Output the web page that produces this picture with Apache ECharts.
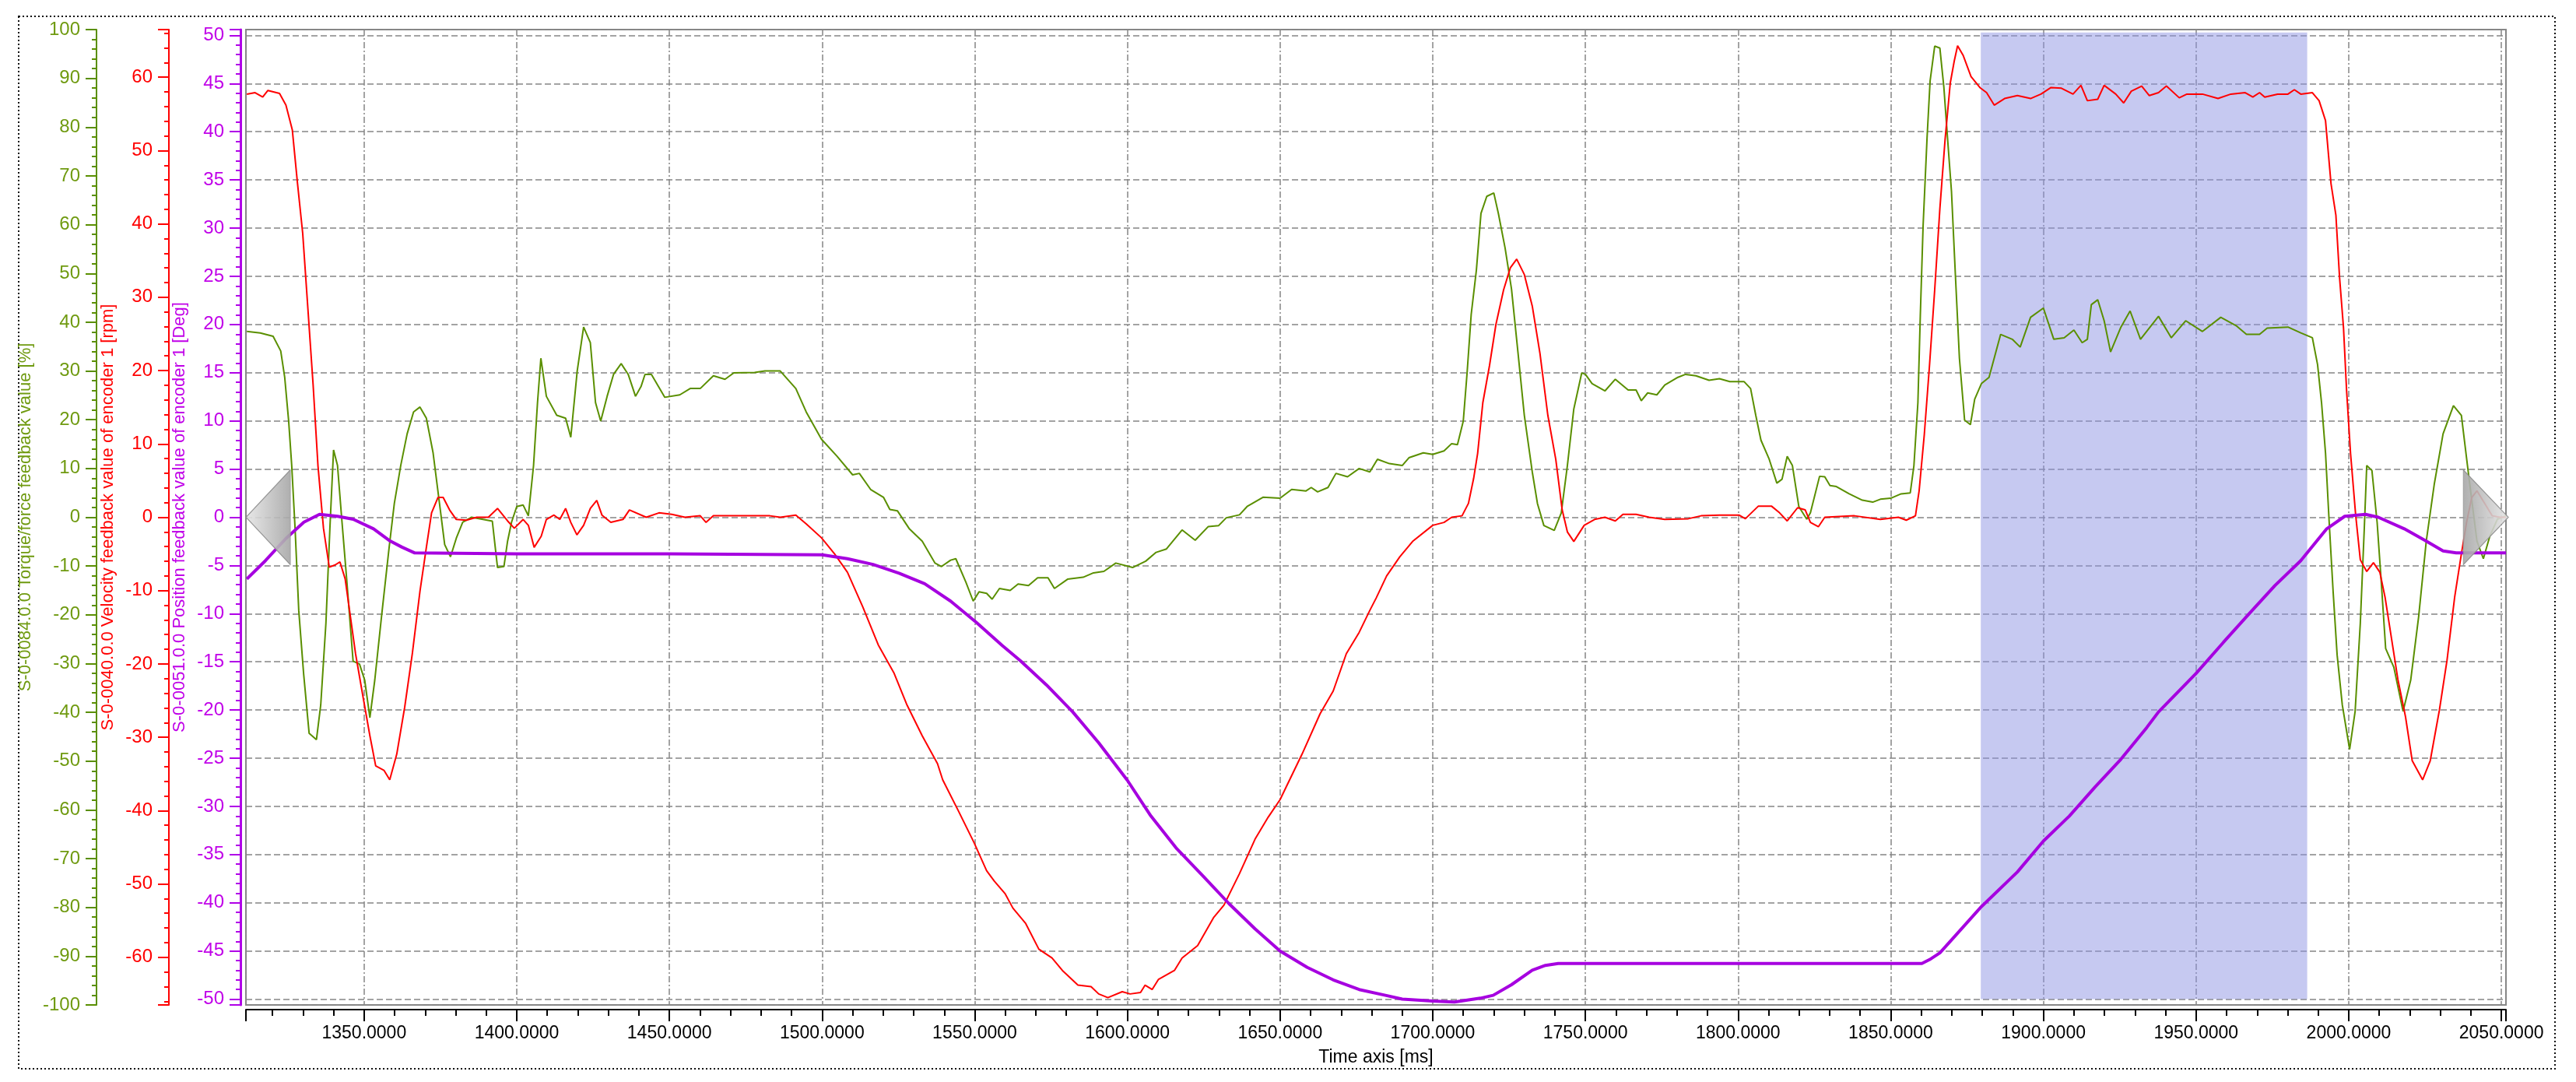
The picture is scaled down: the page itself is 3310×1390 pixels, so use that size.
<!DOCTYPE html>
<html><head><meta charset="utf-8">
<script src="https://cdn.jsdelivr.net/npm/echarts@6/dist/echarts.min.js"></script>
<style>html,body{margin:0;padding:0;background:#fff}#c{width:3310px;height:1390px}</style>
</head><body><div id="c"></div>
<script>
// ---- data: [time ms, value] ----
const torque = [
[1311.6,38.1],[1316.0,37.8],[1320.2,37.1],[1322.7,34.1],[1324.0,28.7],[1325.3,19.7],[1326.3,10.6],[1327.4,-2.3],[1328.6,-19.1],[1330.2,-32.1],[1332.0,-44.3],[1334.4,-45.6],[1335.8,-38.5],[1337.5,-21.7],[1338.8,-2.3],[1340.0,13.8],[1341.3,10.6],[1342.6,0.3],[1344.3,-12.7],[1346.4,-29.5],[1348.5,-30.1],[1350.2,-33.4],[1351.9,-41.1],[1353.5,-33.4],[1355.7,-20.4],[1358.2,-6.2],[1359.9,2.8],[1362.0,10.6],[1364.1,17.1],[1366.2,21.6],[1368.3,22.6],[1370.4,20.3],[1372.6,13.2],[1374.7,2.8],[1376.4,-5.6],[1378.3,-8.1],[1380.2,-4.3],[1382.3,-1.0],[1385.2,0],[1388.6,-0.4],[1392.0,-0.8],[1393.7,-10.3],[1395.8,-10.1],[1397.0,-4.9],[1398.3,-1.0],[1400.0,2.2],[1402.1,2.5],[1403.8,0.3],[1405.5,10.6],[1406.8,23.5],[1407.9,32.6],[1409.7,24.8],[1413.1,20.9],[1416.0,20.3],[1417.7,16.4],[1419.8,30.0],[1421.9,39.0],[1424.1,35.8],[1425.8,23.5],[1427.5,19.7],[1429.6,24.8],[1431.7,29.3],[1434.2,31.5],
[1436.5,29.3],[1438.9,24.8],[1440.7,26.8],[1442.0,29.3],[1444.1,29.3],[1448.5,24.6],[1453.4,25.1],[1456.8,26.4],[1460.1,26.4],[1464.4,29.0],[1468.2,28.3],[1471.1,29.6],[1477.9,29.7],[1481.3,30.0],[1486.3,30.0],[1491.4,26.4],[1494.8,21.6],[1499.8,16.0],[1504.9,12.5],[1510.0,8.7],[1512.2,9.0],[1515.9,5.7],[1520.1,4.1],[1522.2,1.6],[1524.7,1.3],[1528.5,-2.3],[1532.8,-4.9],[1537.0,-9.4],[1539.1,-10.1],[1542.1,-8.8],[1543.8,-8.5],[1547.1,-13.3],[1549.5,-17.2],[1551.4,-15.3],[1553.9,-15.6],[1555.7,-16.8],[1558.1,-14.6],
[1561.6,-15.0],[1564.2,-13.7],[1567.6,-14.0],[1570.6,-12.4],[1574.0,-12.4],[1576.1,-14.6],[1580.4,-12.7],[1585.5,-12.3],[1588.9,-11.4],[1592.3,-11.1],[1596.2,-9.4],[1601.7,-10.3],[1606.0,-9.0],[1609.4,-7.2],[1612.8,-6.5],[1617.9,-2.6],[1622.2,-4.7],[1626.5,-1.9],[1629.9,-1.7],[1632.4,-0.1],[1636.7,0.5],[1639.2,2.2],[1644.4,4.1],[1650.0,3.9],[1653.8,5.7],[1658.5,5.4],[1660.2,6.1],[1662.3,5.2],[1665.7,6.1],[1668.3,9.0],[1672.1,8.3],[1675.9,10.0],[1679.4,9.3],[1681.9,11.9],
[1685.8,11.0],[1690.0,10.6],[1692.2,12.2],[1696.9,13.2],[1700.0,12.9],[1703.7,13.6],[1706.2,15.1],[1708.1,14.9],[1710.0,19.7],[1711.3,30.0],[1712.6,41.6],[1714.3,50.7],[1715.8,62.3],[1717.7,65.8],[1720.0,66.5],[1721.5,62.3],[1723.7,55.2],[1725.8,46.8],[1727.9,33.9],[1730.0,20.9],[1732.6,9.3],[1734.3,2.8],[1736.4,-1.7],[1739.8,-2.7],[1742.1,0.9],[1744.1,10.6],[1746.2,22.2],[1748.8,29.6],[1750.0,29.3],[1752.2,27.4],[1756.4,25.9],[1759.8,28.3],[1764.0,26.1],[1766.6,26.1],[1768.3,23.9],[1770.4,25.5],[1773.4,25.1],[1776.0,27.1],[1780.3,28.7],[1782.8,29.3],[1786.2,29.0],[1790.5,28.1],[1793.9,28.4],[1797.3,27.8],[1802.0,27.8],[1804.1,26.4],[1805.8,20.9],[1807.5,15.8],
[1810.2,11.9],[1812.7,7.0],[1814.4,7.8],[1816.1,12.5],[1817.8,10.6],[1819.9,2.2],[1822.5,-0.4],[1823.7,0.9],[1826.7,8.4],[1828.4,8.3],[1830.1,6.5],[1832.2,6.3],[1836.4,4.8],[1840.7,3.5],[1844.1,3.1],[1846.6,3.7],[1850.0,3.9],[1853.4,4.8],[1856.4,5.0],[1857.6,10.6],[1858.9,23.5],[1859.7,41.6],[1860.6,59.7],[1861.9,77.8],[1862.9,89.5],[1864.4,96.6],[1866.1,96.2],[1867.4,88.2],[1868.6,77.8],[1869.9,66.8],[1871.2,49.4],[1872.5,32.6],[1874.2,19.9],[1876.1,19.0],[1877.5,24.2],[1879.7,27.4],[1882.2,28.7],[1886.0,37.5],[1889.8,36.5],[1892.4,34.9],[1895.8,41.0],[1900.0,42.9],[1903.4,36.5],[1906.8,36.8],[1910.0,38.4],[1912.7,35.8],[1914.4,36.5],[1915.7,43.6],[1917.8,44.6],[1919.9,40.3],[1922.0,33.9],[1925.4,39.0],[1928.4,42.3],[1931.8,36.5],
[1937.7,41.2],[1941.9,36.8],[1946.6,40.3],[1952.1,38.1],[1958.1,41.0],[1963.1,39.3],[1966.5,37.5],[1970.8,37.5],[1973.3,38.8],[1980.1,39.0],[1984.3,37.8],[1988.1,36.8],[1989.8,31.3],[1991.1,23.5],[1992.4,13.2],[1993.6,-1.0],[1994.9,-15.3],[1996.2,-28.2],[1997.9,-38.5],[2000.3,-47.6],[2002.1,-39.8],[2003.8,-21.7],[2005.1,-2.3],[2005.9,10.6],[2007.6,9.6],[2009.3,-1.0],[2010.6,-12.7],[2012.1,-26.9],[2014.8,-30.8],[2017.8,-39.8],[2020.3,-33.4],[2022.9,-20.4],[2025.4,-4.9],[2028.0,6.7],[2030.9,17.1],[2034.3,22.9],[2036.9,20.9],[2039.4,8.0],[2042.0,-4.9],[2044.1,-8.5],[2046.2,-3.9],[2048.7,-0.4],[2051.5,0.3]
];
const velocity = [
[1311.6,57.7],[1314.3,57.9],[1316.8,57.3],[1318.5,58.2],[1322.3,57.8],[1324.4,56.2],[1326.5,52.8],[1328.2,45.5],[1329.9,38.7],[1331.6,28.4],[1333.3,18.1],[1334.9,7.0],[1336.7,-1.5],[1338.6,-6.8],[1340.5,-6.5],[1342.1,-6.1],[1343.8,-8.4],[1345.5,-13.5],[1347.2,-18.6],[1349.7,-24.6],[1351.9,-29.8],[1353.8,-33.9],[1356.5,-34.5],[1358.4,-35.8],[1360.7,-32.3],[1363.3,-25.9],[1365.8,-18.6],[1368.3,-10.1],[1370.4,-4.1],[1372.1,0.6],[1374.2,2.7],[1375.9,2.7],[1378.0,1.0],[1380.2,-0.3],[1383.5,-0.4],[1386.9,0],[1390.7,0],[1393.7,1.2],[1397.0,-0.5],[1399.2,-1.5],[1402.1,-0.3],[1403.8,-1.1],[1405.7,-4.1],[1408.0,-2.6],[1409.7,-0.3],[1412.2,0.3],[1414.1,-0.3],[1416.0,1.2],[1417.7,-0.7],[1419.7,-2.4],[1421.9,-1.1],[1424.1,1.2],[1426.2,2.3],[1427.9,0.3],[1430.8,-0.7],[1434.8,-0.3],[1436.9,1.0],[1442.4,0],[1446.6,0.6],[1450.8,0.4],[1455.1,0],[1460.1,0.2],[1462.0,-0.7],[1464.4,0.2],[1474.5,0.2],[1482.9,0.2],[1486.3,0],[1491.4,0.3],[1494.8,-0.9],[1499.8,-2.8],[1504.1,-5.0],[1508.3,-7.5],[1513.3,-12.2],[1518.4,-17.4],[1523.5,-21.2],[1527.7,-25.5],[1532.8,-29.8],[1537.8,-33.6],[1539.5,-35.8],[1544.6,-40.0],[1549.7,-44.3],[1553.9,-48.2],[1556.4,-49.6],[1559.9,-51.3],[1562.5,-53.3],[1566.7,-55.4],[1571.0,-58.9],[1575.3,-60.1],[1578.7,-61.8],[1583.8,-63.8],[1588.1,-64.0],[1590.6,-65.0],[1593.6,-65.5],[1598.3,-64.7],[1600.9,-65.0],[1604.3,-64.8],[1605.8,-63.8],[1608.1,-64.4],[1610.2,-63.0],[1615.4,-61.8],[1617.9,-60.1],[1623.0,-58.4],[1628.2,-54.6],[1631.6,-52.9],[1636.7,-48.6],[1641.8,-43.9],[1646.1,-40.9],[1650.0,-38.5],[1657.2,-32.3],[1663.1,-26.8],[1667.4,-23.7],[1671.7,-18.6],[1675.9,-15.7],[1679.4,-12.7],[1681.5,-11.0],[1684.9,-8.0],[1689.2,-5.4],[1693.4,-3.3],[1700.0,-1.1],[1703.7,-0.7],[1706.2,0],[1709.6,0.2],[1711.7,1.9],[1713.4,5.3],[1714.7,8.7],[1716.4,15.6],[1718.6,20.7],[1720.7,26.3],[1723.2,31.0],[1725.4,34.0],[1727.5,35.2],[1730.0,33.1],[1732.6,28.8],[1735.1,22.4],[1737.7,13.9],[1740.3,7.9],[1742.4,1.0],[1744.1,-2.0],[1746.2,-3.3],[1749.6,-1.1],[1753.0,-0.3],[1756.4,0],[1759.8,-0.5],[1762.3,0.4],[1766.6,0.4],[1770.9,0],[1776.0,-0.3],[1783.7,-0.2],[1787.9,0.2],[1793.9,0.3],[1800.3,0.3],[1802.4,-0.2],[1806.6,1.5],[1811.0,1.5],[1813.6,0.6],[1816.1,-0.5],[1819.5,1.3],[1822.0,1.0],[1823.7,-0.7],[1826.3,-1.3],[1828.4,0],[1838.1,0.2],[1846.6,-0.3],[1852.5,0],[1855.1,-0.4],[1858.1,0.2],[1859.3,3.6],[1861.0,11.3],[1862.7,20.7],[1864.4,31.0],[1866.1,42.1],[1867.8,51.5],[1869.5,59.2],[1870.8,62.2],[1871.9,64.3],[1873.7,63.0],[1876.3,60.1],[1879.2,58.6],[1881.4,57.9],[1883.9,56.2],[1887.3,57.1],[1891.5,57.5],[1895.8,57.1],[1899.2,57.7],[1902.5,58.6],[1905.9,58.5],[1909.7,57.7],[1912.3,58.9],[1914.4,56.8],[1917.8,57.0],[1919.9,58.9],[1923.7,57.7],[1926.3,56.5],[1928.8,58.1],[1932.2,58.8],[1934.7,57.5],[1937.7,57.9],[1940.3,58.8],[1944.5,57.2],[1947.0,57.7],[1952.1,57.7],[1957.2,57.1],[1961.4,57.7],[1966.1,57.9],[1968.6,57.3],[1970.8,57.9],[1972.5,57.3],[1976.7,57.7],[1980.1,57.7],[1982.2,58.3],[1984.3,57.7],[1988.1,57.9],[1990.3,56.8],[1992.4,54.1],[1994.2,45.5],[1995.8,41.2],[1997.0,32.7],[1998.3,25.8],[1999.3,17.3],[2000.6,8.7],[2002.3,0.2],[2003.8,-5.8],[2005.9,-7.4],[2008.1,-6.2],[2010.2,-7.5],[2011.9,-10.9],[2014.0,-16.5],[2016.1,-22.1],[2018.6,-27.2],[2020.8,-33.2],[2024.2,-35.8],[2026.7,-33.2],[2029.7,-26.3],[2032.2,-19.5],[2034.7,-10.9],[2036.9,-5.0],[2038.6,-0.7],[2040.3,2.7],[2042.0,3.6],[2044.5,1.9],[2047.0,0.2],[2049.6,0],[2051.5,0]
];
const position = [
[1311.6,-6.4],[1317.7,-4.5],[1324.4,-2.2],[1330.3,-0.5],[1335.4,0.3],[1341.3,0.1],[1346.4,-0.2],[1353.1,-1.2],[1358.2,-2.4],[1362.4,-3.1],[1366.6,-3.7],[1400,-3.8],[1450,-3.8],[1500,-3.9],[1508.3,-4.3],[1516.7,-4.9],[1525.2,-5.8],[1533.6,-6.9],[1542.1,-8.7],[1550.5,-10.9],[1559.0,-13.3],[1565.0,-14.9],[1573.5,-17.4],[1582.1,-20.2],[1590.6,-23.4],[1600.0,-27.3],[1607.7,-31.0],[1616.2,-34.4],[1624.7,-37.2],[1633.3,-40.1],[1641.8,-42.7],[1650.0,-45.0],[1658.9,-46.7],[1667.4,-48.0],[1675.9,-49.0],[1684.5,-49.6],[1690.0,-50.0],[1700,-50.2],[1707.1,-50.3],[1715.6,-49.9],[1719.8,-49.6],[1725.8,-48.5],[1732.6,-47.0],[1736.9,-46.5],[1741.1,-46.3],[1800,-46.3],[1860.2,-46.3],[1862.7,-45.9],[1866.1,-45.2],[1871.2,-43.4],[1879.7,-40.4],[1891.5,-36.8],[1900.0,-33.6],[1908.5,-31.0],[1916.9,-28.0],[1925.4,-25.1],[1933.9,-21.8],[1937.7,-20.2],[1950.0,-16.2],[1958.9,-13.0],[1967.4,-10.0],[1975.8,-7.1],[1984.3,-4.5],[1992.8,-1.2],[1998.7,0.1],[2005.5,0.3],[2009.7,0],[2018.2,-1.2],[2025.0,-2.4],[2030.9,-3.5],[2035.2,-3.7],[2051.5,-3.7]
];
const highlightStart = 1879.5, highlightEnd = 1986.4;
const cursorLeft = 1318.6, cursorRight = 2044.9;
const xMin = 1311.3, xMax = 2051.5;

const GREEN = '#5a8f00', GREEN_TXT = '#6f9a10';
const RED = '#ff0000';
const MAG = '#a600e0', MAG_AXIS = '#b000e8', MAG_TXT = '#c000e8';
const FONT = 'Liberation Sans, Arial, sans-serif';

function yAxisBase(color, txtColor, offset, name, nameGap, lineW) {
  return {
    type: 'value', position: 'left', offset: offset,
    axisLine: {show: true, onZero: false, lineStyle: {color: color, width: lineW}},
    axisTick: {show: true, length: 14, lineStyle: {color: color, width: 2}},
    minorTick: {show: true, splitNumber: 5, length: 6, lineStyle: {color: color, width: 2}},
    axisLabel: {color: txtColor, fontSize: 24, margin: 21, fontFamily: FONT},
    splitLine: {show: false},
    name: name, nameLocation: 'middle', nameRotate: 90, nameGap: nameGap,
    nameTextStyle: {color: txtColor, fontSize: 22, fontFamily: FONT}
  };
}
const yGreen = Object.assign(yAxisBase(GREEN, GREEN_TXT, 192, 'S-0-0084.0.0 Torque/force feedback value [%]', 75, 2), {min: -100, max: 100, interval: 10});
const yRed = Object.assign(yAxisBase(RED, RED, 99, 'S-0-0040.0.0 Velocity feedback value of encoder 1 [rpm]', 62, 2), {min: -66.5, max: 66.5, splitNumber: 13});
yRed.axisLabel.showMinLabel = false; yRed.axisLabel.showMaxLabel = false;
const yMag = Object.assign(yAxisBase(MAG_AXIS, MAG_TXT, 7, 'S-0-0051.0.0 Position feedback value of encoder 1 [Deg]', 59, 3), {min: -50.6, max: 50.6, splitNumber: 20});
yMag.axisLabel.showMinLabel = false; yMag.axisLabel.showMaxLabel = false;
yMag.splitLine = {show: true, lineStyle: {color: '#858585', width: 1.5, type: [8, 4]}};

const chart = echarts.init(document.getElementById('c'), null, {renderer: 'canvas'});
chart.setOption({
  animation: false,
  backgroundColor: '#fff',
  textStyle: {fontFamily: FONT},
  grid: {left: 316, right: 90, top: 38, bottom: 99, show: true, borderColor: '#888', borderWidth: 2, backgroundColor: '#fff'},
  xAxis: {
    type: 'value', min: xMin, max: xMax, splitNumber: 15, position: 'bottom', offset: 6,
    axisLine: {show: true, onZero: false, lineStyle: {color: '#000', width: 2}},
    axisTick: {show: true, length: 15, lineStyle: {color: '#000', width: 2}},
    minorTick: {show: true, splitNumber: 5, length: 8, lineStyle: {color: '#000', width: 2}},
    axisLabel: {formatter: v => v.toFixed(4), fontSize: 23, color: '#000', margin: 19, showMinLabel: false, showMaxLabel: false, fontFamily: FONT},
    splitLine: {show: true, lineStyle: {color: '#858585', width: 1.5, type: [8, 3, 2, 3]}},
    name: 'Time axis [ms]', nameLocation: 'middle', nameGap: 50,
    nameTextStyle: {fontSize: 23, color: '#000', fontFamily: FONT}
  },
  yAxis: [yGreen, yRed, yMag],
  series: [
    {type: 'line', data: [], yAxisIndex: 2, z: 1, silent: true,
     markPoint: {silent: true, animation: false, label: {show: false}, data: [
       {coord: [cursorLeft, 0], symbol: 'path://M0,50L100,0L100,100Z', symbolSize: [57, 122],
        itemStyle: {color: new echarts.graphic.LinearGradient(0, 0, 1, 0, [{offset: 0, color: '#e6e6e6'}, {offset: 1, color: '#a6a6a6'}]), borderColor: '#8c8c8c', borderWidth: 1, opacity: 0.9}},
       {coord: [cursorRight, 0], symbol: 'path://M0,0L100,50L0,100Z', symbolSize: [58, 122],
        itemStyle: {color: new echarts.graphic.LinearGradient(0, 0, 1, 0, [{offset: 0, color: '#a6a6a6'}, {offset: 1, color: '#e6e6e6'}]), borderColor: '#8c8c8c', borderWidth: 1, opacity: 0.9}}
     ]}},
    {type: 'line', name: 'Torque', data: torque, yAxisIndex: 0, showSymbol: false, z: 3, lineStyle: {color: GREEN, width: 2}},
    {type: 'line', name: 'Velocity', data: velocity, yAxisIndex: 1, showSymbol: false, z: 3, lineStyle: {color: RED, width: 2}},
    {type: 'line', name: 'Position', data: position, yAxisIndex: 2, showSymbol: false, z: 4, lineStyle: {color: MAG, width: 4}},
    {type: 'line', data: [], yAxisIndex: 2, z: 10, silent: true,
     markArea: {silent: true, itemStyle: {color: 'rgba(141,147,227,0.5)'},
       data: [[{coord: [highlightStart, 50.3]}, {coord: [highlightEnd, -50]}]]}}
  ],
  graphic: [{type: 'rect', silent: true, z: -10,
    shape: {x: 24, y: 21, width: 3259, height: 1352},
    style: {fill: null, stroke: '#111', lineWidth: 2, lineDash: [2, 3]}}]
});
</script></body></html>
